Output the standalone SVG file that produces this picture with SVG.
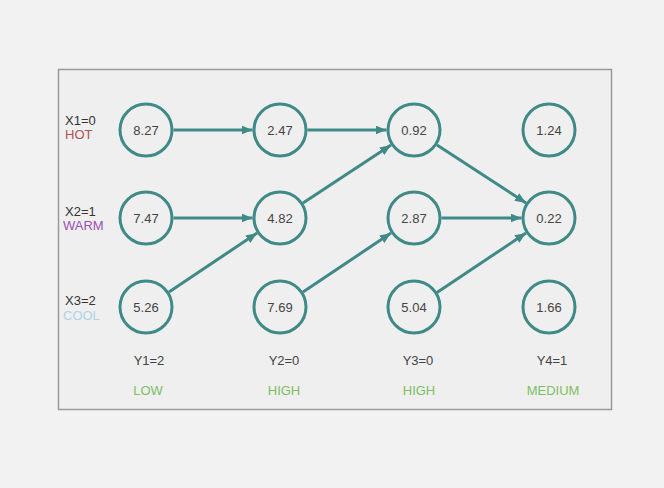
<svg xmlns="http://www.w3.org/2000/svg" width="664" height="488" viewBox="0 0 664 488">
<style>
.node circle{fill:none;stroke:#3f8a87;stroke-width:3}
.node text{font-family:"Liberation Sans",Arial,sans-serif;font-size:13px;fill:#444;text-anchor:middle}
.edge{stroke:#3f8a87;stroke-width:3;fill:none;marker-end:url(#arr)}
.lbl{font-family:"Liberation Sans",Arial,sans-serif;font-size:13px}
.x{fill:#333}
.y{fill:#444;text-anchor:middle}
.g{fill:#7cbf62;text-anchor:middle}
</style>
<defs>
<marker id="arr" markerUnits="userSpaceOnUse" markerWidth="12" markerHeight="10" refX="11" refY="4.5" orient="auto">
<path d="M0,0 L11,4.5 L0,9 z" fill="#3f8a87"/>
</marker>
</defs>
<rect width="664" height="488" fill="#f2f2f2"/>
<rect x="58.5" y="69.5" width="553" height="340" fill="#efefef" stroke="#9a9a9a" stroke-width="1.5"/>
<g id="connectors">
<line class="edge" x1="173.5" y1="130" x2="252.5" y2="130"/>
<line class="edge" x1="173.5" y1="218" x2="252.5" y2="218"/>
<line class="edge" x1="169" y1="291.9" x2="257" y2="233.1"/>
<line class="edge" x1="307.5" y1="130" x2="386.5" y2="130"/>
<line class="edge" x1="303" y1="202.9" x2="391" y2="145.1"/>
<line class="edge" x1="303" y1="291.9" x2="391" y2="233.1"/>
<line class="edge" x1="437" y1="145" x2="526" y2="203"/>
<line class="edge" x1="441.5" y1="218" x2="521.5" y2="218"/>
<line class="edge" x1="437" y1="292.4" x2="526" y2="233"/>
</g>
<g id="n11" class="node"><circle cx="146" cy="130" r="26"/><text x="146" y="134.5">8.27</text></g>
<g id="n21" class="node"><circle cx="146" cy="218" r="26"/><text x="146" y="222.5">7.47</text></g>
<g id="n31" class="node"><circle cx="146" cy="307" r="26"/><text x="146" y="311.5">5.26</text></g>
<g id="n12" class="node"><circle cx="280" cy="130" r="26"/><text x="280" y="134.5">2.47</text></g>
<g id="n22" class="node"><circle cx="280" cy="218" r="26"/><text x="280" y="222.5">4.82</text></g>
<g id="n32" class="node"><circle cx="280" cy="307" r="26"/><text x="280" y="311.5">7.69</text></g>
<g id="n13" class="node"><circle cx="414" cy="130" r="26"/><text x="414" y="134.5">0.92</text></g>
<g id="n23" class="node"><circle cx="414" cy="218" r="26"/><text x="414" y="222.5">2.87</text></g>
<g id="n33" class="node"><circle cx="414" cy="307" r="26"/><text x="414" y="311.5">5.04</text></g>
<g id="n14" class="node"><circle cx="549" cy="130" r="26"/><text x="549" y="134.5">1.24</text></g>
<g id="n24" class="node"><circle cx="549" cy="218" r="26"/><text x="549" y="222.5">0.22</text></g>
<g id="n34" class="node"><circle cx="549" cy="307" r="26"/><text x="549" y="311.5">1.66</text></g>
<g id="xlabels" class="lbl">
<text class="x" x="65" y="125">X1=0</text>
<text x="65" y="139" fill="#ad5358">HOT</text>
<text class="x" x="65" y="216">X2=1</text>
<text x="63" y="230" fill="#9b4fb5">WARM</text>
<text class="x" x="65" y="305">X3=2</text>
<text x="63" y="320" fill="#b0d2e6">COOL</text>
</g>
<g id="ylabels" class="lbl">
<text class="y" x="149" y="365">Y1=2</text>
<text class="y" x="284" y="365">Y2=0</text>
<text class="y" x="418" y="365">Y3=0</text>
<text class="y" x="552" y="365">Y4=1</text>
<text class="g" x="148" y="395">LOW</text>
<text class="g" x="284" y="395">HIGH</text>
<text class="g" x="419" y="395">HIGH</text>
<text class="g" x="553" y="395">MEDIUM</text>
</g>
</svg>
